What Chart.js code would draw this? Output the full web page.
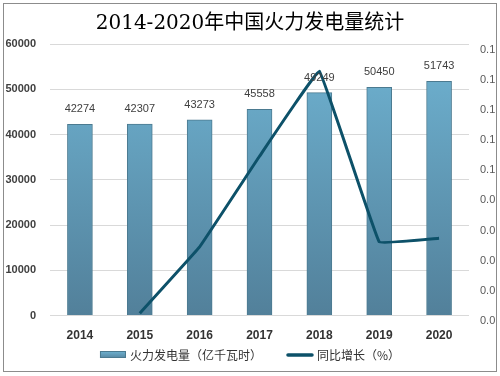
<!DOCTYPE html>
<html>
<head>
<meta charset="utf-8">
<script src="https://cdn.jsdelivr.net/npm/chart.js@4/dist/chart.umd.min.js"></script>
<style>
  body { margin: 0; background: #fff; }
  #wrap { position: relative; width: 500px; height: 376px; }
</style>
</head>
<body>
<div id="wrap"><canvas id="chPower" width="500" height="376"></canvas></div>
<script>
// chart data
var years = ["2014", "2015", "2016", "2017", "2018", "2019", "2020"];
var power = [42274, 42307, 43273, 45558, 49249, 50450, 51743];
var growth = [null, 0.0008, 0.0228, 0.0528, 0.081, 0.0244, 0.0256];

var barTop = "#6fb3d2";
var barBottom = "#52809a";
var lineColor = "#0d5169";

function barFill(context) {
  var chart = context.chart;
  var area = chart.chartArea;
  if (!area) return barTop;
  var g = chart.ctx.createLinearGradient(0, area.top, 0, area.bottom);
  g.addColorStop(0, barTop);
  g.addColorStop(1, barBottom);
  return g;
}

// value labels over bars, legend at the bottom, outer border
var extras = {
  id: "extras",
  afterDatasetsDraw: function (chart) {
    var ctx = chart.ctx;
    var meta = chart.getDatasetMeta(0);
    ctx.save();
    ctx.fillStyle = "#404040";
    ctx.font = "11px 'Liberation Sans', Arial, sans-serif";
    ctx.textAlign = "center";
    ctx.textBaseline = "middle";
    meta.data.forEach(function (bar, i) {
      ctx.fillText(power[i], bar.x, bar.y - 15);
    });
    ctx.restore();
  },
  afterDraw: function (chart) {
    var ctx = chart.ctx;
    var sets = chart.data.datasets;
    var y = 355, sw = 26, gap = 4, between = 25;
    ctx.save();
    ctx.font = "12px 'Noto Sans CJK SC', sans-serif";
    ctx.textBaseline = "middle";
    var w0 = ctx.measureText(sets[0].label).width;
    var w1 = ctx.measureText(sets[1].label).width;
    var total = sw + gap + w0 + between + sw + gap + w1;
    var x = (chart.width - total) / 2;
    // bar swatch
    var g = ctx.createLinearGradient(0, y - 4, 0, y + 4);
    g.addColorStop(0, barTop);
    g.addColorStop(1, barBottom);
    ctx.fillStyle = g;
    ctx.fillRect(x, y - 4, sw, 7);
    ctx.strokeStyle = "#4b7a90";
    ctx.lineWidth = 1;
    ctx.strokeRect(x + 0.5, y - 3.5, sw - 1, 6);
    ctx.fillStyle = "#333";
    ctx.fillText(sets[0].label, x + sw + gap, y);
    x += sw + gap + w0 + between;
    // line swatch
    ctx.strokeStyle = lineColor;
    ctx.lineWidth = 3.5;
    ctx.lineCap = "round";
    ctx.beginPath();
    ctx.moveTo(x + 1, y);
    ctx.lineTo(x + sw - 1, y);
    ctx.stroke();
    ctx.fillText(sets[1].label, x + sw + gap, y);
    // border
    ctx.strokeStyle = "#8c8c8c";
    ctx.lineWidth = 1;
    ctx.strokeRect(3.5, 3.5, 493, 368);
    ctx.restore();
  }
};

new Chart(document.getElementById("chPower"), {
  type: "bar",
  data: {
    labels: years,
    datasets: [
      {
        type: "bar",
        label: "火力发电量（亿千瓦时）",
        data: power,
        yAxisID: "y",
        backgroundColor: barFill,
        borderColor: "#4b7a90",
        borderWidth: 1,
        barThickness: 25,
        order: 2
      },
      {
        type: "line",
        label: "同比增长（%）",
        data: growth,
        yAxisID: "y1",
        borderColor: lineColor,
        backgroundColor: lineColor,
        borderWidth: 3,
        pointRadius: 0,
        tension: 0.05,
        order: 1
      }
    ]
  },
  options: {
    responsive: false,
    animation: false,
    layout: { padding: { top: 4, bottom: 28, left: 0, right: 0 } },
    plugins: {
      title: {
        display: true,
        text: "2014-2020年中国火力发电量统计",
        color: "#000",
        font: { size: 20, family: "'DejaVu Serif', 'Noto Sans CJK SC', serif", weight: "normal" },
        padding: { top: 8, bottom: 8 }
      },
      legend: { display: false },
      tooltip: { enabled: false }
    },
    scales: {
      x: {
        grid: { display: false },
        border: { display: false },
        ticks: {
          color: "#333",
          padding: 5,
          font: { size: 12, weight: "bold", family: "'Liberation Sans', Arial, sans-serif" }
        }
      },
      y: {
        position: "left",
        min: 0,
        max: 60000,
        ticks: {
          stepSize: 10000,
          color: "#404040",
          padding: 14,
          font: { size: 11, weight: "bold", family: "'Liberation Sans', Arial, sans-serif" },
          callback: function (v) { return String(v); }
        },
        grid: { color: "#d9d9d9", drawTicks: false },
        border: { display: false },
        afterFit: function (scale) { scale.width = 50; }
      },
      y1: {
        position: "right",
        min: 0,
        max: 0.09,
        ticks: {
          stepSize: 0.01,
          color: "#595959",
          padding: 11,
          align: "start",
          font: { size: 11, family: "'Liberation Sans', Arial, sans-serif" },
          callback: function (v) {
            return (Math.round(Math.round(v * 100) / 10) / 10).toFixed(1);
          }
        },
        grid: { display: false, drawTicks: false },
        border: { display: false },
        afterFit: function (scale) { scale.width = 31; }
      }
    }
  },
  plugins: [extras]
});
</script>
</body>
</html>
